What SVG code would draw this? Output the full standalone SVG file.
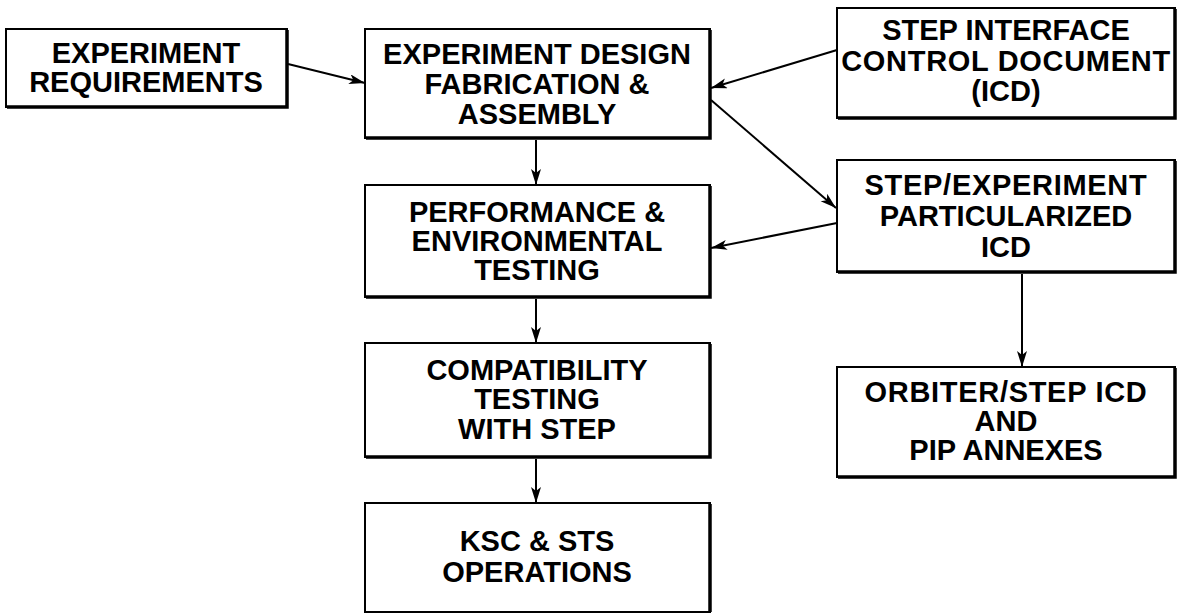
<svg xmlns="http://www.w3.org/2000/svg" width="1180" height="614" viewBox="0 0 1180 614">
  <style>
    .box { fill: #fff; stroke: #000; stroke-width: 2; }
    .shadow { fill: none; stroke: #000; stroke-width: 3.5; }
    .lbl { font-family: "Liberation Sans", Arial, Helvetica, sans-serif; font-weight: bold; font-size: 29px; fill: #000; text-anchor: middle; }
    .wide { letter-spacing: 0.7px; }
    .conn { stroke: #000; stroke-width: 2; fill: none; marker-end: url(#arr); }
  </style>
  <defs>
    <marker id="arr" markerUnits="userSpaceOnUse" markerWidth="18" markerHeight="12" refX="16" refY="5" orient="auto">
      <path d="M0,0 L16,5 L0,10 L4,5 z" fill="#000"/>
    </marker>
  </defs>
  <rect width="1180" height="614" fill="#fff"/>

  <g id="connectors">
    <line class="conn" x1="288" y1="64" x2="365" y2="83"/>
    <line class="conn" x1="837" y1="50" x2="711" y2="88"/>
    <line class="conn" x1="711" y1="100" x2="836" y2="208"/>
    <line class="conn" x1="837" y1="223" x2="711" y2="248"/>
    <line class="conn" x1="536" y1="140" x2="536" y2="185"/>
    <line class="conn" x1="536" y1="299" x2="536" y2="343"/>
    <line class="conn" x1="536" y1="459" x2="536" y2="503"/>
    <line class="conn" x1="1022" y1="274" x2="1022" y2="367"/>
  </g>

  <g id="n1">
    <rect class="box" x="6" y="29" width="281" height="78"/>
    <polyline class="shadow" points="287,30 287,107 7,107"/>
    <text class="lbl" x="146" y="63">EXPERIMENT</text>
    <text class="lbl" x="146" y="92">REQUIREMENTS</text>
  </g>

  <g id="n2">
    <rect class="box" x="365" y="29" width="345" height="109"/>
    <polyline class="shadow" points="710,30 710,138 366,138"/>
    <text class="lbl" x="537" y="64">EXPERIMENT DESIGN</text>
    <text class="lbl" x="537" y="94">FABRICATION &amp;</text>
    <text class="lbl" x="537" y="124">ASSEMBLY</text>
  </g>

  <g id="n3">
    <rect class="box" x="837" y="8" width="338" height="110"/>
    <polyline class="shadow" points="1175,9 1175,118 838,118"/>
    <text class="lbl" x="1006" y="40">STEP INTERFACE</text>
    <text class="lbl wide" x="1006" y="71">CONTROL DOCUMENT</text>
    <text class="lbl" x="1006" y="101">(ICD)</text>
  </g>

  <g id="n4">
    <rect class="box" x="837" y="160" width="338" height="112"/>
    <polyline class="shadow" points="1175,161 1175,272 838,272"/>
    <text class="lbl wide" x="1006" y="195">STEP/EXPERIMENT</text>
    <text class="lbl" x="1006" y="226">PARTICULARIZED</text>
    <text class="lbl" x="1006" y="257">ICD</text>
  </g>

  <g id="n5">
    <rect class="box" x="365" y="185" width="345" height="112"/>
    <polyline class="shadow" points="710,186 710,297 366,297"/>
    <text class="lbl" x="537" y="222">PERFORMANCE &amp;</text>
    <text class="lbl" x="537" y="251">ENVIRONMENTAL</text>
    <text class="lbl" x="537" y="280">TESTING</text>
  </g>

  <g id="n6">
    <rect class="box" x="365" y="343" width="345" height="114"/>
    <polyline class="shadow" points="710,344 710,457 366,457"/>
    <text class="lbl" x="537" y="380">COMPATIBILITY</text>
    <text class="lbl" x="537" y="409">TESTING</text>
    <text class="lbl" x="537" y="439">WITH STEP</text>
  </g>

  <g id="n7">
    <rect class="box" x="365" y="503" width="345" height="109"/>
    <polyline class="shadow" points="710,504 710,612"/>
    <text class="lbl" x="537" y="551">KSC &amp; STS</text>
    <text class="lbl" x="537" y="582">OPERATIONS</text>
  </g>

  <g id="n8">
    <rect class="box" x="837" y="367" width="338" height="110"/>
    <polyline class="shadow" points="1175,368 1175,477 838,477"/>
    <text class="lbl wide" x="1006" y="402">ORBITER/STEP ICD</text>
    <text class="lbl" x="1006" y="431">AND</text>
    <text class="lbl" x="1006" y="460">PIP ANNEXES</text>
  </g>
</svg>
